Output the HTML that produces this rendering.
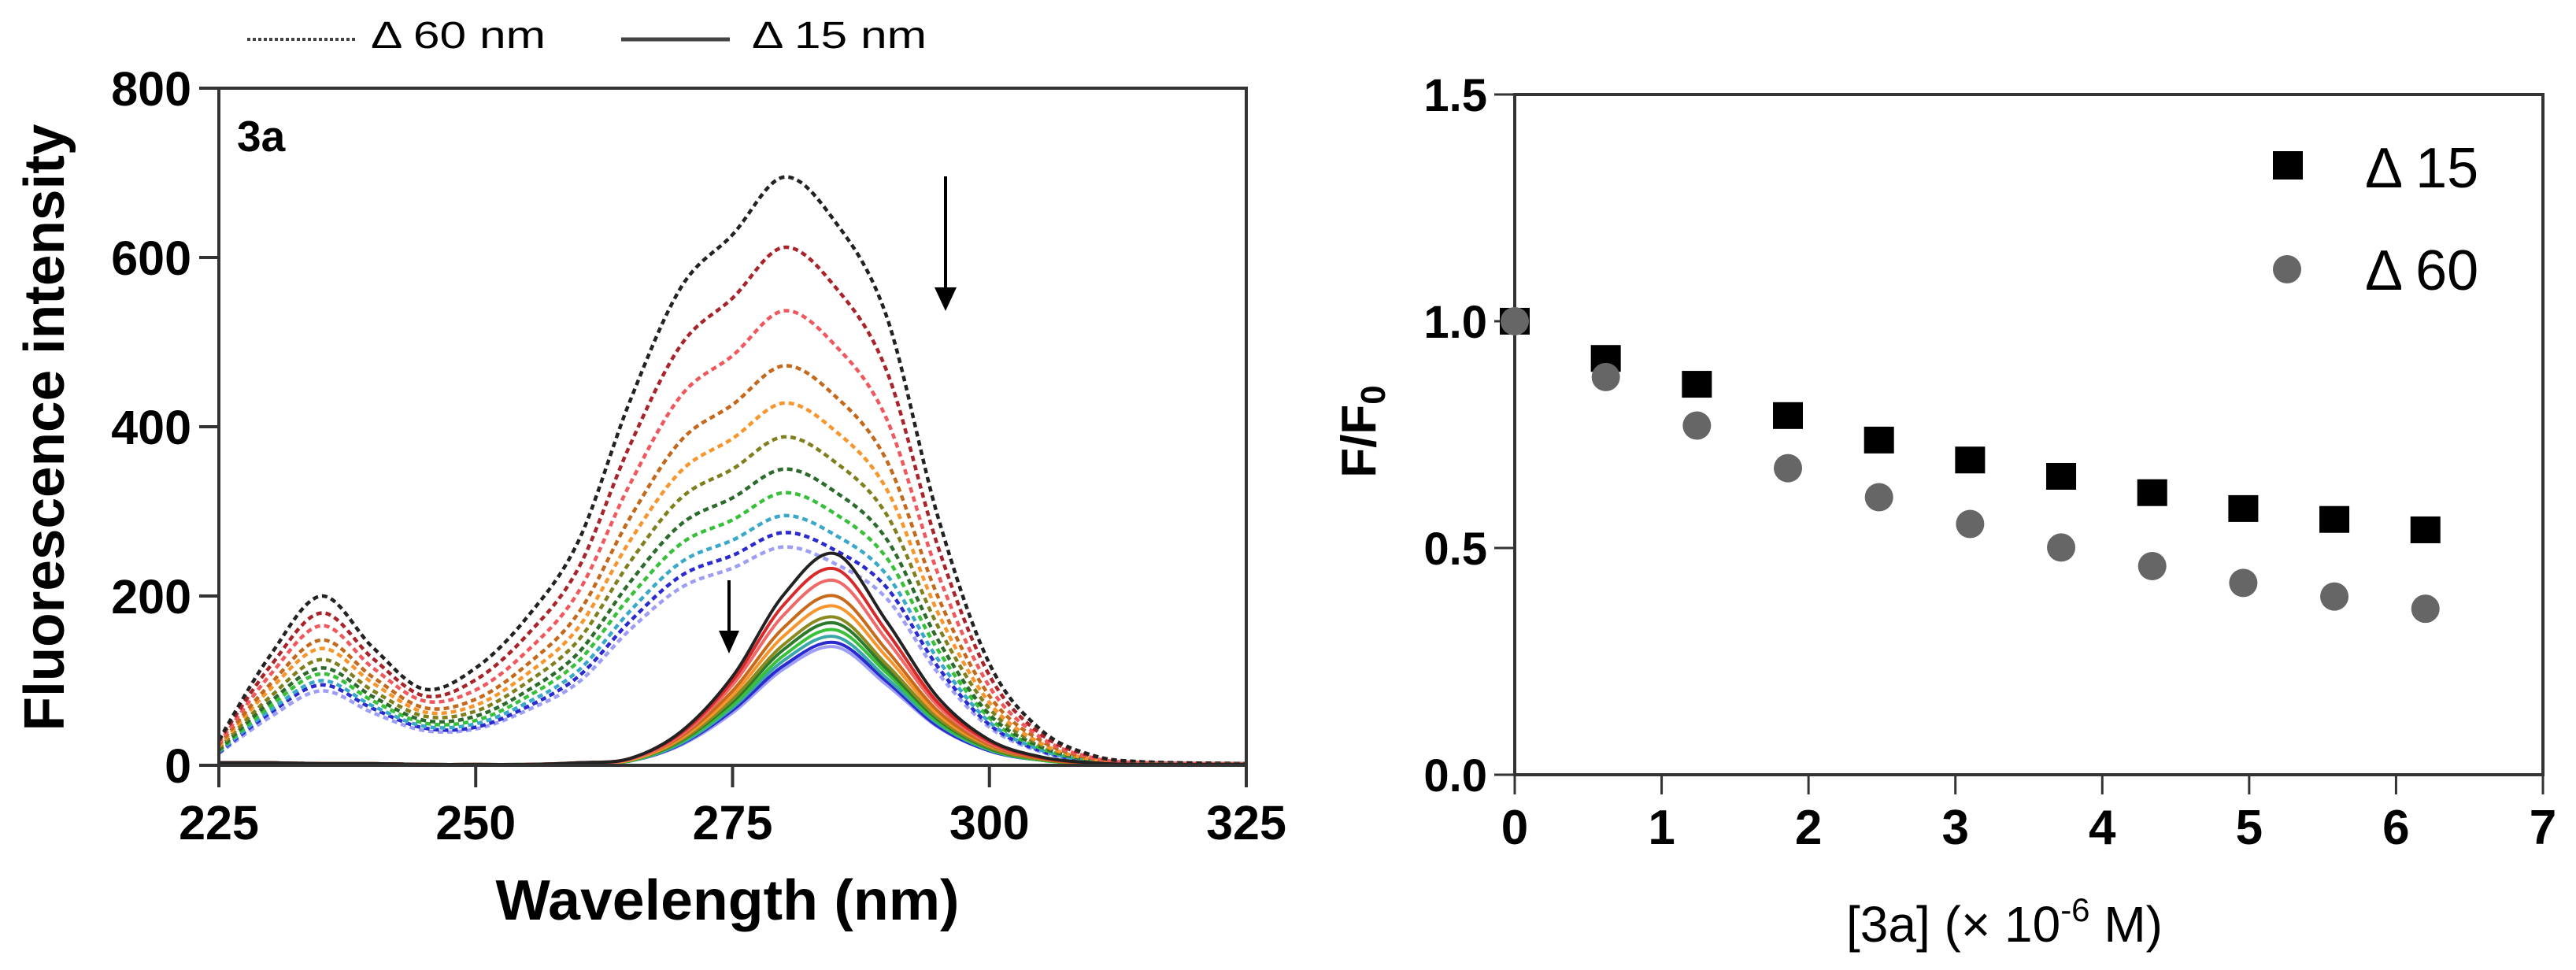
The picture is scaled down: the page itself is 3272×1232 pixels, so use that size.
<!DOCTYPE html>
<html><head><meta charset="utf-8">
<style>
html,body{margin:0;padding:0;background:#fff;}
svg{display:block;}
text{font-family:"Liberation Sans",Arial,sans-serif;}
</style></head>
<body>
<svg id="fig" width="3272" height="1232" viewBox="0 0 3272 1232" xmlns="http://www.w3.org/2000/svg">
  <rect width="3272" height="1232" fill="#fff"/>
  <g id="left"></g>
  <g id="right"></g>
</svg>
<script>
// ---------- Left chart data ----------
const wavelengths = [225,230,235,240,245,250,255,260,265,270,275,280,285,290,295,300,305,310,315,325];
const dashed1  = [30,130,200,139,90,115,175,265,430,565,627,695,642,530,293,120,42,12,4,2];
const dashed2  = [29,117,180,126,82,101,154,233,378,497,552,612,565,466,258,106,37,11,4,2];
const dashed3  = [26,107,165,115,76,89,135,205,332,437,484,537,496,409,226,93,33,9,3,2];
const dashed4  = [24,96,148,104,68,78,119,180,292,384,426,472,436,360,199,82,29,8,3,2];
const dashed5  = [22,90,138,97,63,71,108,163,265,348,386,428,395,326,180,74,26,7,3,2];
const dashed6  = [20,81,125,88,58,64,98,148,240,316,350,388,358,296,164,67,24,7,3,2];
const dashed7  = [18,75,115,81,53,58,88,133,216,285,316,350,323,267,148,60,22,6,2,2];
const dashed8  = [17,70,108,76,50,53,81,123,199,262,290,322,297,245,136,56,20,6,2,2];
const dashed9  = [16,65,100,70,46,49,74,112,182,240,266,295,272,225,125,51,18,5,2,2];
const dashed10 = [15,62,95,67,44,45,69,105,170,224,248,275,254,210,116,48,17,5,2,2];
const dashed11 = [14,57,88,62,41,43,65,98,160,210,233,258,238,197,109,45,16,4,2,2];
const solid1  = [3,3,2,2,1,1,1,3,8,40,105,202,250,170,80,30,10,3,1,1];
const solid2  = [3,3,2,2,1,1,1,3,8,38,100,190,232,158,74,28,9,3,1,1];
const solid3  = [3,3,2,2,1,1,1,3,7,36,95,178,218,148,70,26,9,3,1,1];
const solid4  = [3,3,2,2,1,1,1,3,7,34,88,163,200,136,64,24,8,2,1,1];
const solid5  = [3,3,2,2,1,1,1,2,6,32,83,153,188,128,60,23,8,2,1,1];
const solid6  = [3,3,2,2,1,1,1,2,6,30,78,143,175,119,56,21,7,2,1,1];
const solid7  = [3,3,2,2,1,1,1,2,6,29,75,137,168,114,54,20,7,2,1,1];
const solid8  = [3,3,2,2,1,1,1,2,5,28,71,130,160,109,51,19,6,2,1,1];
const solid9  = [3,3,2,2,1,1,1,2,5,26,68,124,152,103,49,18,6,2,1,1];
const solid10 = [3,3,2,2,1,1,1,2,5,25,65,118,145,99,46,17,6,2,1,1];
const solid11 = [3,3,2,2,1,1,1,2,5,24,62,114,140,95,45,17,6,2,1,1];
const xTicksLeft = [225,250,275,300,325];
const yTicksLeft = [0,200,400,600,800];

// ---------- Right chart data ----------
const concentrations = [0,0.62,1.24,1.86,2.48,3.1,3.72,4.34,4.96,5.58,6.2];
const ratio15 = [1.0,0.918,0.861,0.792,0.738,0.694,0.658,0.622,0.587,0.563,0.540];
const ratio60 = [1.0,0.877,0.770,0.676,0.612,0.553,0.501,0.460,0.423,0.393,0.366];
const xTicksRight = [0,1,2,3,4,5,6,7];
const yTicksRight = ["0.0","0.5","1.0","1.5"];

const NS = "http://www.w3.org/2000/svg";
function mk(tag, attrs, parent){
  const e = document.createElementNS(NS, tag);
  for (const k in attrs) e.setAttribute(k, attrs[k]);
  parent.appendChild(e);
  return e;
}
function smoothPath(pts){
  let d = "M" + pts[0][0].toFixed(1) + "," + pts[0][1].toFixed(1);
  for (let i=0;i<pts.length-1;i++){
    const p0 = pts[Math.max(0,i-1)], p1 = pts[i], p2 = pts[i+1], p3 = pts[Math.min(pts.length-1,i+2)];
    const c1x = p1[0] + (p2[0]-p0[0])/6, c1y = p1[1] + (p2[1]-p0[1])/6;
    const c2x = p2[0] - (p3[0]-p1[0])/6, c2y = p2[1] - (p3[1]-p1[1])/6;
    d += " C" + c1x.toFixed(1)+","+c1y.toFixed(1)+" "+c2x.toFixed(1)+","+c2y.toFixed(1)+" "+p2[0].toFixed(1)+","+p2[1].toFixed(1);
  }
  return d;
}

// ---------- Left chart ----------
const L = document.getElementById('left');
const lx = v => 278 + (v-225)/100*(1583-278);
const ly = v => 972 - v/800*(972-112);

const dashedSeries = [dashed1,dashed2,dashed3,dashed4,dashed5,dashed6,dashed7,dashed8,dashed9,dashed10,dashed11];
const solidSeries = [solid1,solid2,solid3,solid4,solid5,solid6,solid7,solid8,solid9,solid10,solid11];
const dashColors = ["#222222","#a8242a","#f0585e","#c4681c","#f7962e","#7f7f1e","#2c6b2c","#38c03a","#3aa8c8","#2a2ad0","#9e9ef6"];
const solidColors = ["#222222","#d82a2a","#f06868","#c86a1a","#f7962e","#8a8a20","#2c7a2c","#3ac03a","#3aa8a8","#2a2ad0","#9e9ef6"];

for (let i=dashedSeries.length-1;i>=0;i--){
  const pts = wavelengths.map((w,j)=>[lx(w), ly(dashedSeries[i][j])]);
  const p = mk('path',{d:smoothPath(pts),fill:"none",stroke:dashColors[i],"stroke-width":4.5,"stroke-dasharray":"7 5"},L);
  
  
}
for (let i=solidSeries.length-1;i>=0;i--){
  const pts = wavelengths.map((w,j)=>[lx(w), ly(solidSeries[i][j])]);
  const p = mk('path',{d:smoothPath(pts),fill:"none",stroke:solidColors[i],"stroke-width":4},L);
  
  
}
// frame
const lf = mk('rect',{x:278,y:112,width:1305,height:860,fill:"none",stroke:"#333","stroke-width":4},L);


xTicksLeft.forEach(t=>{
  const tk = mk('line',{x1:lx(t),x2:lx(t),y1:972,y2:1000,stroke:"#333","stroke-width":4},L);
  
  
  const tl = mk('text',{x:lx(t),y:1066,"text-anchor":"middle","font-size":61,"font-weight":"bold",fill:"#000"},L);
  tl.textContent = t;
  
  
});
yTicksLeft.forEach(t=>{
  const tk = mk('line',{x1:253,x2:278,y1:ly(t),y2:ly(t),stroke:"#333","stroke-width":4},L);
  
  
  const tl = mk('text',{x:243,y:ly(t)+22,"text-anchor":"end","font-size":61,"font-weight":"bold",fill:"#000"},L);
  tl.textContent = t;
  
  
});
</script>
<script>
// static labels for left chart
(function(){
const L = document.getElementById('left');
const NS = "http://www.w3.org/2000/svg";
function t(attrs, txt, name){
  const e = document.createElementNS(NS,'text');
  for (const k in attrs) e.setAttribute(k, attrs[k]);
  e.textContent = txt;
  
  
  L.appendChild(e);
  return e;
}
t({x:924,y:1168,"text-anchor":"middle","font-size":72,"font-weight":"bold",textLength:589,lengthAdjust:"spacingAndGlyphs"},"Wavelength (nm)","x-axis-title");
t({x:0,y:0,"text-anchor":"middle","font-size":72,"font-weight":"bold",transform:"translate(81,543) rotate(-90)",textLength:771,lengthAdjust:"spacingAndGlyphs"},"Fluorescence intensity","y-axis-title");
t({x:301,y:192,"font-size":55,"font-weight":"bold"},"3a","panel-label");
t({x:471,y:61,"font-size":48,textLength:222,lengthAdjust:"spacingAndGlyphs"},"Δ 60 nm","legend-label-60");
t({x:955,y:61,"font-size":48,textLength:222,lengthAdjust:"spacingAndGlyphs"},"Δ 15 nm","legend-label-15");
function ln(a,name){const e=document.createElementNS(NS,'line');for(const k in a)e.setAttribute(k,a[k]);L.appendChild(e);return e;}
ln({x1:314,x2:452,y1:50,y2:50,stroke:"#444","stroke-width":4,"stroke-dasharray":"4 3"},"legend-line-dashed");
ln({x1:789,x2:927,y1:50,y2:50,stroke:"#444","stroke-width":5},"legend-line-solid");
ln({x1:1201,x2:1201,y1:224,y2:370,stroke:"#000","stroke-width":4},"arrow-dashed-shaft");
ln({x1:926,x2:926,y1:737,y2:805,stroke:"#000","stroke-width":4},"arrow-solid-shaft");
function poly(p,name){const e=document.createElementNS(NS,'polygon');e.setAttribute('points',p);e.setAttribute('fill','#000');L.appendChild(e);}
poly("1187,365 1215,365 1201,395","arrow-dashed-head");
poly("913,801 939,801 926,830","arrow-solid-head");
})();
</script>
<script>
// ---------- Right chart ----------
(function(){
const R = document.getElementById('right');
const NS = "http://www.w3.org/2000/svg";
const rx = v => 1924 + v/7*(3230-1924);
const ry = v => 984 - v/1.5*(984-120);
function mk(tag, attrs){
  const e = document.createElementNS(NS, tag);
  for (const k in attrs) e.setAttribute(k, attrs[k]);
  R.appendChild(e);
  return e;
}
const fr = mk('rect',{x:1924,y:120,width:1306,height:864,fill:"none",stroke:"#333","stroke-width":4});


xTicksRight.forEach(t=>{
  const tk = mk('line',{x1:rx(t),x2:rx(t),y1:984,y2:1009,stroke:"#333","stroke-width":3});
  
  
  const tl = mk('text',{x:rx(t),y:1072,"text-anchor":"middle","font-size":62,"font-weight":"bold",fill:"#000"});
  tl.textContent = t;
  
  
});
yTicksRight.forEach(t=>{
  const v = parseFloat(t);
  const tk = mk('line',{x1:1898,x2:1924,y1:ry(v),y2:ry(v),stroke:"#333","stroke-width":3});
  
  
  const tl = mk('text',{x:1889,y:ry(v)+21,"text-anchor":"end","font-size":58,"font-weight":"bold",fill:"#000"});
  tl.textContent = t;
  
  
});
concentrations.forEach((c,i)=>{
  const s = mk('rect',{x:rx(c)-19,y:ry(ratio15[i])-17,width:38,height:34,fill:"#000"});
  
  
});
concentrations.forEach((c,i)=>{
  const s = mk('circle',{cx:rx(c),cy:ry(ratio60[i]),r:18,fill:"#666"});
  
  
});
const ls = mk('rect',{x:2887,y:192,width:38,height:36,fill:"#000"});


const lc = mk('circle',{cx:2905,cy:342,r:18,fill:"#666"});


const t1 = mk('text',{x:3004,y:238,"font-size":72,fill:"#000"});
t1.textContent = "Δ 15";


const t2 = mk('text',{x:3004,y:368,"font-size":72,fill:"#000"});
t2.textContent = "Δ 60";


const yt = mk('text',{x:0,y:0,"text-anchor":"middle","font-size":62,"font-weight":"bold",transform:"translate(1747,548) rotate(-90)"});
yt.innerHTML = 'F/F<tspan font-size="44" dy="12">0</tspan>';


const xt = mk('text',{x:2345,y:1196,"font-size":64,fill:"#000"});
xt.innerHTML = '[3a] (× 10<tspan font-size="42" dy="-26">-6</tspan><tspan dy="26"> M)</tspan>';


})();
</script>
</body></html>
